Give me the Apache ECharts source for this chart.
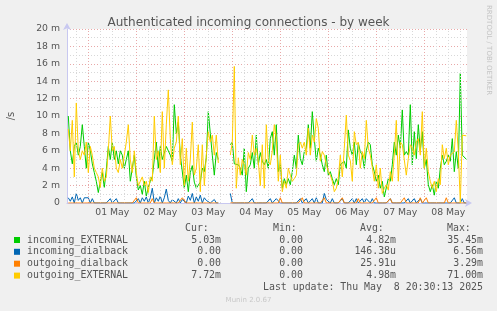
<!DOCTYPE html>
<html><head><meta charset="utf-8">
<script src="https://cdn.jsdelivr.net/npm/echarts@6/dist/echarts.min.js"></script>
<style>html,body{margin:0;padding:0;background:#f0f0f0;}#c{width:497px;height:311px;}</style>
</head><body><div id="c"></div>
<script>
// Time axis: hours since 30 Apr 00:00; one sample per hour
const startHour = 14;
const axisStartHour = 13.35;
const axisEndHour = 213.35;
const dayLabels = ['01 May','02 May','03 May','04 May','05 May','06 May','07 May','08 May'];
const dayLabelHours = [36,60,84,108,132,156,180,204];
const gridHours = [18,24,30,36,42,48,54,60,66,72,78,84,90,96,102,108,114,120,126,132,138,144,150,156,162,168,174,180,186,192,198,204,210];

// values in milli-connections per second (m)
const incomingExternal = [
 10,6,4.5,6.5,7,5.5,6.5,9,6.5,4,
 7,6,4.5,3.5,2.5,1.2,2.5,3.5,1.8,3.8,
 6.5,5,7,5,6,4.5,6,5.5,4,5,
 6,2.5,4,5.5,3,1.5,2,1,2.5,0.8,
 1.8,2.5,3,5,7,4,6.5,5,5,6.5,
 6.7,5.5,4.8,11.3,8,9.3,5.5,5.5,1.7,3.2,
 1.3,3.5,4.3,2.4,1.7,1.7,2.4,4,3.6,5.2,
 10.5,8,5.5,3.2,5.8,5,null,null,null,null,
 null,6.7,7,4.5,4.6,4.4,4,3.2,6.3,1.3,
 4,4.4,5.8,4,7.8,4.4,5.8,4.8,4.4,5,
 4,7.4,8.2,5.5,9,3.6,4.4,1.7,2.8,2.1,
 2.8,2.1,3.6,5.5,4,7.8,5.1,4.4,5.9,6.3,
 9,6.3,10.5,7.4,4.8,6.3,5.5,4.4,3.6,5.5,
 3.2,3.6,2.8,2.1,2.8,2.1,4.4,4.4,4.8,4,
 8.4,6.3,5.5,7,4.4,6.9,5.9,5.5,4,6,
 7,6.7,4.4,3.6,2.5,3.2,1.7,2.5,0.7,0.5,
 2.8,2.5,4.4,7,5.5,7.8,6.3,10.7,5.5,5.9,
 5.5,11.3,4.4,8.2,5.1,9,6,8.2,4,5,
 2.1,1.3,2.1,0.9,2.5,1.7,4,5.5,4.4,4.8,
 5.5,4.8,7.4,3.6,5.9,4,14.9,5.5,5.5,5.03
];
const incomingDialback = [
 0.6,0.2,0.7,0,1.1,0.3,0.6,0,0.6,0.4,
 0.6,0,0.5,0,0,0,0,0,0,0,
 0,0.5,0,0,0.5,0,0,0,0,0,
 0,0,0,0,0,0.5,0,0.6,0.2,0.7,
 0,0.6,1.7,0,0.6,0.2,0.8,0,0.6,1.6,
 0.3,0,0.4,0.6,0,0.5,0,0.4,0.6,0,
 0.8,0.3,1.1,0,0.7,0.2,0.9,0,0.6,0.3,
 0.5,0,0.2,0.4,0,0,null,null,null,null,
 null,1.1,0,0,0,0,0,0,0,0,
 0,0,0.5,0,0,0,0,0,0,0,
 0,0.5,0,0,0.5,0.4,0,0,0,0,
 0,0,0,0,0,0,0.5,0,0,0.5,
 0,0,0.5,0,0.6,0,0,0,1.1,0.4,
 0.5,0,0.5,0,0,0,0,0.5,0,0,
 0,0,0.5,0,0.5,0,0,0.5,0,0.5,
 0.5,0,0.5,0,0,0,0,0,0,0,
 0,0.5,0,0,0,0,0,0,0,0,
 0.5,0,0,0.5,0,0,0.5,0,0,0,
 0,0,0,0,0,0,0,0,0,0,
 0,0,0,0.6,0,0,0,0.5,0,0
];
const outgoingDialback = [
 0,0,0,0,0,0,0,0,0,0,
 0,0,0,0,0,0,0,0,0,0,
 0,0,0,0,0,0,0,0,0,0,
 0,0,0,0,0.6,0,0,0,0,0,
 0,0,0.5,0,0,0,0,0,0,0,
 0,0,0,0,0,0,0,0.6,0.5,0,
 0,0,0,0,0,0,0,0,0,0,
 0,0,0,0,0,0,null,null,null,null,
 null,0,0,0,0,0,0,0,0,0,
 0,0,0,0,0,0,0,0,0,0,
 0,0,0,0,0,0,0.6,0,0,0,
 0,0,0,0,0,0,0,0.6,0,0,
 0,0,0,0,0,0,0,0,0.6,0,
 0,0,0,0,0,0,0,0.6,0,0,
 0,0,0,0,0,0.5,0,0,0,0,
 0,0,0,0,0.6,0,0,0,0,0,
 0,0.5,0,0,0,0,0,0,0.6,0,
 0,0,0,0,0,0,0.6,0,0,0.6,
 0,0,0,0,0,0,0,0,0,0.6,
 0,0,0,0,0,0,0,0,0,0
];
const outgoingExternal = [
 8.5,6,9.5,3,11.5,6,5,6,5.5,7,
 3.5,6.5,5.5,4,3.5,3,1.8,4,2.5,3,
 6,10,6,6.5,4,3.5,5,4,5.5,7,
 9,5,3.5,6,3.5,2,2.5,3,2,2.5,
 1.2,3,2.5,10,5,6,3.5,10.5,4,9,
 13,7.4,4.4,6.3,7,10,4.4,7.4,2,6.3,
 2.5,5,9.3,3.2,4,6.7,1.3,6.7,2,5.5,
 8.2,7,7.8,5.5,7.8,4.6,null,null,null,null,
 null,5.5,7,15.7,1.7,5.2,3.2,5,4.4,3.2,
 5.8,5,7.8,5.5,6.3,4.8,2,6.7,1.7,9,
 4.8,4.4,6,9,7.4,2.5,5.5,1.3,2.5,1.7,
 4,3.2,2.5,2.8,3.2,6.7,7,6.3,7,5.5,
 8.6,5.5,7.8,7,9.7,8.6,4.8,5.9,5.5,4.4,
 3.6,3.2,2.5,1.3,1.7,2.8,5.5,3,6.3,10.1,
 5.5,4.9,2.5,8.2,6.7,7,4,5.9,5.1,9.5,
 6.3,5.5,4.1,2.5,4.4,1.7,4,1.1,1.7,2.1,
 1.5,3.6,2.5,5.5,9.5,2.5,7,6.7,6.7,3.2,
 5.1,6.7,6.3,5.5,7,7.4,5.5,10.5,4,6.3,
 3.6,2.5,1.7,2.5,1.3,2.8,2.1,6.7,5.1,6.3,
 4.4,5.5,5.5,5.9,9.5,5.9,0,7.8,8,7.72
];

const seriesNames = ['incoming_EXTERNAL','incoming_dialback','outgoing_dialback','outgoing_EXTERNAL'];
const seriesColors = ['#00cc00','#0066b3','#ff8000','#ffcc00'];
const statCur = ['5.03m','0.00','0.00','7.72m'];
const statMin = ['0.00','0.00','0.00','0.00'];
const statAvg = ['4.82m','146.38u','25.91u','4.98m'];
const statMax = ['35.45m','6.56m','3.29m','71.00m'];
const lastUpdate = 'Last update: Thu May  8 20:30:13 2025';

const allValues = [incomingExternal, incomingDialback, outgoingDialback, outgoingExternal];
const toPairs = arr => arr.map((v, i) => [startHour + i, v]);

const mono = 'DejaVu Sans Mono';
const sans = 'DejaVu Sans';
const textCol = '#555';
const rowY = [240, 251.8, 263.7, 275.6];

const graphics = [];
graphics.push({type:'text', x:11, y:116, rotation:Math.PI/2, style:{text:'/s', font:'10px "DejaVu Sans"', fill:textCol, textAlign:'center', textVerticalAlign:'middle'}});
graphics.push({type:'text', x:489, y:5, rotation:-Math.PI/2, style:{text:'RRDTOOL / TOBI OETIKER', font:'7px "DejaVu Sans"', fill:'#c4c4c4', textAlign:'left', textVerticalAlign:'middle'}});
const hdr = [['Cur:',185],['Min:',273],['Avg:',360],['Max:',447]];
hdr.forEach(h => graphics.push({type:'text', x:h[1], y:228.3, style:{text:h[0], font:'9.9px "DejaVu Sans Mono"', fill:textCol, textAlign:'left', textVerticalAlign:'middle'}}));
seriesNames.forEach((n, k) => {
  const y = rowY[k];
  graphics.push({type:'rect', shape:{x:14, y:y-3, width:6, height:6}, style:{fill:seriesColors[k]}});
  graphics.push({type:'text', x:27, y:y, style:{text:n, font:'9.9px "DejaVu Sans Mono"', fill:textCol, textAlign:'left', textVerticalAlign:'middle'}});
  [[statCur[k],221],[statMin[k],303],[statAvg[k],396],[statMax[k],483]].forEach(c => {
    graphics.push({type:'text', x:c[1], y:y, style:{text:c[0], font:'9.9px "DejaVu Sans Mono"', fill:textCol, textAlign:'right', textVerticalAlign:'middle'}});
  });
});
graphics.push({type:'text', x:483, y:287.4, style:{text:lastUpdate, font:'9.9px "DejaVu Sans Mono"', fill:textCol, textAlign:'right', textVerticalAlign:'middle'}});
graphics.push({type:'text', x:248.5, y:300, style:{text:'Munin 2.0.67', font:'7px "DejaVu Sans"', fill:'#c8c8c8', textAlign:'center', textVerticalAlign:'middle'}});

const chart = echarts.init(document.getElementById('c'), null, {renderer:'canvas'});
const lineSeries = seriesNames.map((n, k) => ({
  name:n, type:'line', data: toPairs(allValues[k]), showSymbol:false, symbol:'none',
  connectNulls:false, z: 3 + k,
  lineStyle:{color:seriesColors[k], width:1}, itemStyle:{color:seriesColors[k]},
  emphasis:{disabled:true}
}));
chart.setOption({
  backgroundColor:'#f0f0f0',
  animation:false,
  title:{text:'Authenticated incoming connections - by week', left:'center', top:12,
    textStyle:{fontSize:12, fontWeight:'normal', color:textCol, fontFamily:sans}},
  grid:{left:67, top:29, width:400, height:174, show:true, backgroundColor:'#ffffff', borderWidth:0},
  xAxis:{type:'value', min:axisStartHour, max:axisEndHour,
    axisLine:{show:true, onZero:false, lineStyle:{color:'#c8c8f0', width:1}, symbol:['none','arrow'], symbolSize:[6,7], symbolOffset:[0,5]},
    axisTick:{show:false}, splitLine:{show:false},
    axisLabel:{customValues:dayLabelHours, formatter:v => dayLabels[dayLabelHours.indexOf(v)] || '',
      color:textCol, fontSize:9.3, fontFamily:sans, margin:5}},
  yAxis:{type:'value', min:0, max:20, interval:2,
    axisLine:{show:true, lineStyle:{color:'#c8c8f0', width:1}, symbol:['none','arrow'], symbolSize:[6,7], symbolOffset:[0,6]},
    axisTick:{show:false},
    axisLabel:{formatter:v => v === 0 ? '0' : v + ' m', color:textCol, fontSize:9.3, fontFamily:sans, margin:7},
    splitLine:{show:true, lineStyle:{color:'#e8a8a8', type:[1,2], width:1}},
    minorTick:{show:false, splitNumber:2},
    minorSplitLine:{show:true, lineStyle:{color:'#d8d8d8', type:[1,2], width:1}}},
  series:[{
    type:'line', data:[], z:1, silent:true,
    markLine:{silent:true, symbol:['none','none'], animation:false, label:{show:false}, emphasis:{disabled:true},
      data: gridHours.map(h => ({xAxis:h, lineStyle:{color: h % 24 === 0 ? '#e8a8a8' : '#d8d8d8', type:[1,2], width:1}}))}
  }].concat(lineSeries),
  graphic:graphics
});
</script></body></html>
